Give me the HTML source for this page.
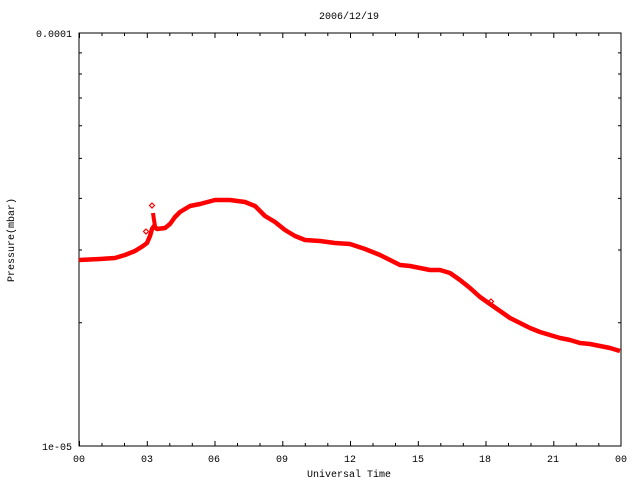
<!DOCTYPE html>
<html><head><meta charset="utf-8"><style>body{margin:0;background:#fff}svg text{font-family:"Liberation Mono",monospace;font-size:10px;fill:#000}</style></head><body>
<svg width="640" height="480" xmlns="http://www.w3.org/2000/svg">
<text x="349" y="19" text-anchor="middle">2006/12/19</text>
<text x="72" y="37" text-anchor="end">0.0001</text>
<text x="72" y="450" text-anchor="end">1e-05</text>
<text x="14" y="240" text-anchor="middle" transform="rotate(-90 14 240)">Pressure(mbar)</text>
<text x="349" y="477" text-anchor="middle">Universal Time</text>
<g text-anchor="middle">
<text x="79" y="462">00</text><text x="147" y="462">03</text><text x="214" y="462">06</text><text x="282" y="462">09</text><text x="350" y="462">12</text><text x="418" y="462">15</text><text x="485" y="462">18</text><text x="553" y="462">21</text><text x="621" y="462">00</text>
</g>
<rect x="79" y="33" width="542" height="413" fill="none" stroke="#000" stroke-width="1"/>
<g stroke="#000" stroke-width="1" id="t">
<path d="M79.5 446v-5M147.3 446v-5M215 446v-5M282.8 446v-5M350.5 446v-5M418.3 446v-5M486 446v-5M553.8 446v-5M79.5 33v5M147.3 33v5M215 33v5M282.8 33v5M350.5 33v5M418.3 33v5M486 33v5M553.8 33v5"/>
<path d="M102 446v-3M124.5 446v-3M169.8 446v-3M192.3 446v-3M237.5 446v-3M260 446v-3M305.3 446v-3M327.8 446v-3M373 446v-3M395.5 446v-3M440.8 446v-3M463.3 446v-3M508.5 446v-3M531 446v-3M576.3 446v-3M598.8 446v-3M102 33v3M124.5 33v3M169.8 33v3M192.3 33v3M237.5 33v3M260 33v3M305.3 33v3M327.8 33v3M373 33v3M395.5 33v3M440.8 33v3M463.3 33v3M508.5 33v3M531 33v3M576.3 33v3M598.8 33v3"/>
<path d="M79 322.7h3M79 250h3M79 198.4h3M79 158.4h3M79 125.7h3M79 98h3M79 74h3M79 52.9h3M621 322.7h-3M621 250h-3M621 198.4h-3M621 158.4h-3M621 125.7h-3M621 98h-3M621 74h-3M621 52.9h-3"/>
</g>
<polyline fill="none" stroke="#f00" stroke-width="4.5" stroke-linejoin="round" points="79,260 100,259 115,258 125,255 135,251 143,246 147,243 150,236 152,229 154,226 157,229 165,228 170,224 175,217 180,212 190,206 200,204 215,200 230,200 245,202 255,206 265,216 275,222 285,230 295,236 305,240 320,241 335,243 350,244 365,249 380,255 390,260 400,265 410,266 420,268 430,270 440,270 450,273 460,280 470,288 480,297 490,304 500,311 510,318 520,323 530,328 540,332 550,335 560,338 570,340 580,343 590,344 600,346 610,348 620,351"/>
<polyline fill="none" stroke="#f00" stroke-width="4" points="153,213 154,220 155,226"/>
<g fill="none" stroke="#f00" stroke-width="1.2">
<path d="M152 203l2.5 2.5-2.5 2.5-2.5-2.5z"/>
<path d="M146 229l2.5 2.5-2.5 2.5-2.5-2.5z"/>
<path d="M491 299l2.5 2.5-2.5 2.5-2.5-2.5z"/>
</g>
</svg>
</body></html>
